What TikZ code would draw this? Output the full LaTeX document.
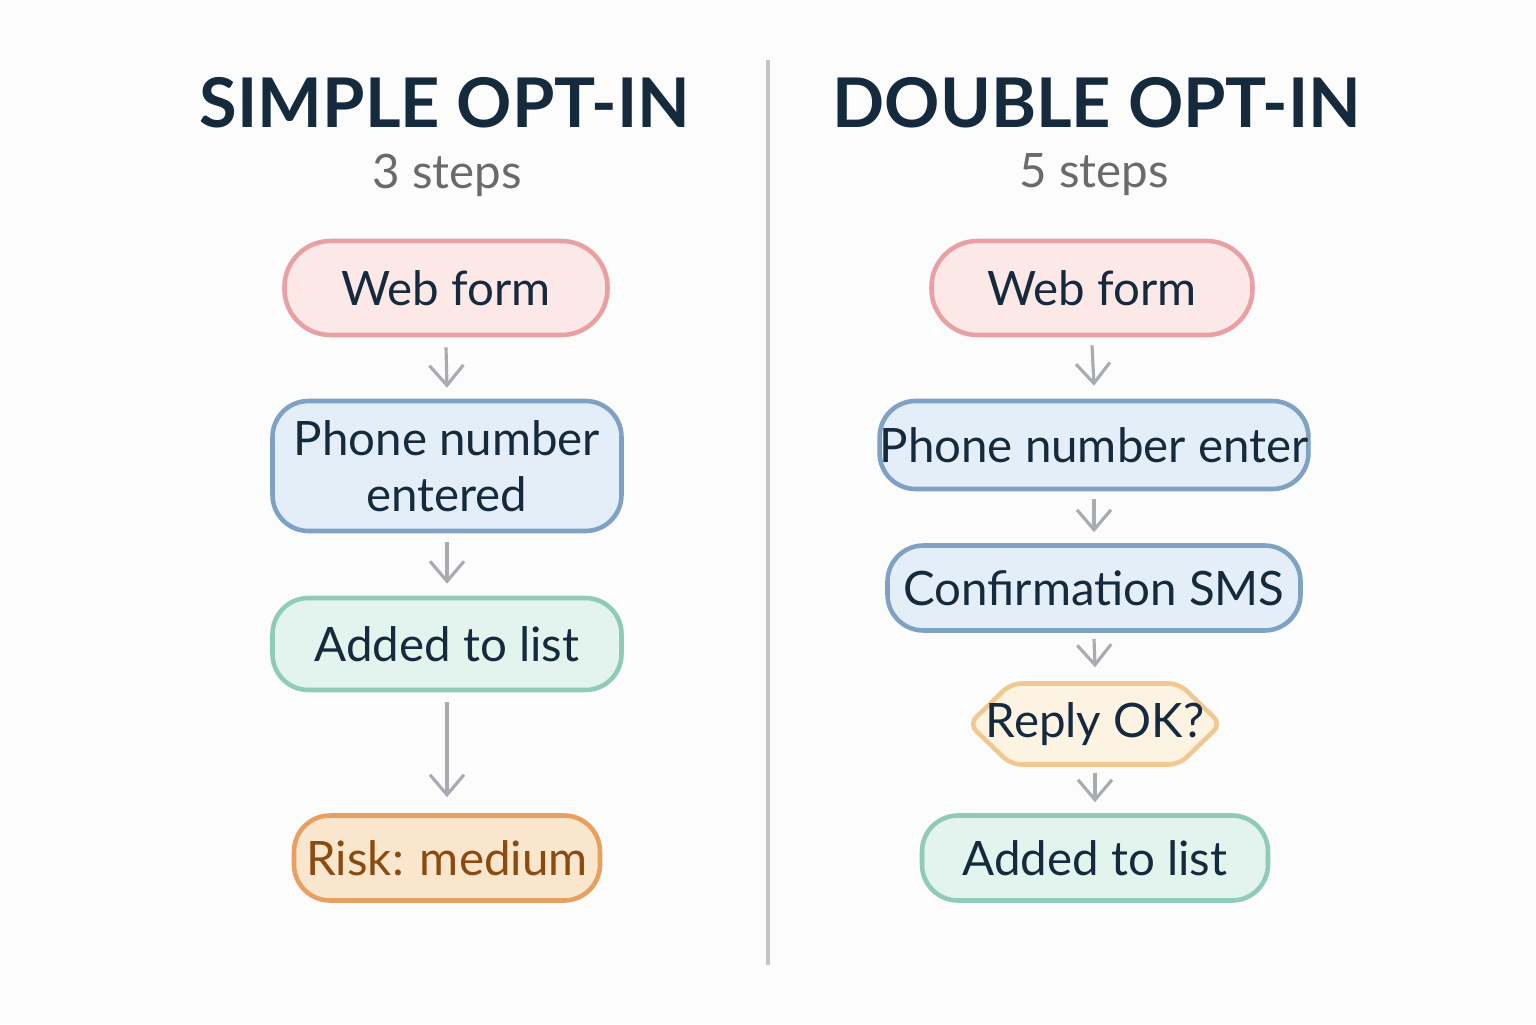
\documentclass[tikz,border=0pt]{standalone}
\usepackage{fontspec}
\setmainfont{Lato}
\usetikzlibrary{arrows.meta}
\definecolor{navy}{HTML}{152A3D}
\definecolor{stepgrey}{HTML}{6A6A6A}
\definecolor{arrowgrey}{HTML}{A8ACB2}
\definecolor{pinkfill}{HTML}{FDE8E8}
\definecolor{pinkline}{HTML}{E8A0A4}
\definecolor{bluefill}{HTML}{E4EEF8}
\definecolor{blueline}{HTML}{7FA2C4}
\definecolor{greenfill}{HTML}{E3F3EE}
\definecolor{greenline}{HTML}{8FCBB5}
\definecolor{orangefill}{HTML}{F9E6CC}
\definecolor{orangeline}{HTML}{E8A060}
\definecolor{risktext}{HTML}{8A4A10}
\definecolor{hexfill}{HTML}{FDF3E3}
\definecolor{hexline}{HTML}{F0C890}
\tikzset{
  title/.style={font=\fontsize{19.5}{22}\selectfont\bfseries, text=navy},
  sub/.style={font=\fontsize{13.5}{15}\selectfont, text=stepgrey},
  box/.style={rounded corners=0.36cm, line width=1.3pt, text=navy,
    font=\fontsize{13.5}{16}\selectfont, align=center, inner sep=0pt},
  flow/.style={-{Straight Barb[length=2mm,width=3.4mm]}, draw=arrowgrey, line width=0.9pt}
}
\begin{document}
\begin{tikzpicture}[x=1cm,y=1cm]
\fill[white!98!gray] (0,0) rectangle (15.36,10.24);
\useasboundingbox (0,0) rectangle (15.36,10.24);
% divider
\draw[arrowgrey!70, line width=1.2pt] (7.68,0.59) -- (7.68,9.64);

% simple opt-in
\node[title] (stitle) at (4.45,9.21) {SIMPLE OPT-IN};
\node[sub] (ssub) at (4.47,8.49) {3 steps};
\node[box, fill=pinkfill, draw=pinkline, rounded corners=0.46cm,
  minimum width=3.23cm, minimum height=0.94cm] (sweb) at (4.46,7.36) {Web form};
\node[box, fill=bluefill, draw=blueline,
  minimum width=3.49cm, minimum height=1.30cm] (sphone) at (4.47,5.58) {Phone number\\entered};
\node[box, fill=greenfill, draw=greenline,
  minimum width=3.49cm, minimum height=0.92cm] (sadded) at (4.47,3.80) {Added to list};
\node[box, fill=orangefill, draw=orangeline, text=risktext,
  minimum width=3.06cm, minimum height=0.85cm] (srisk) at (4.47,1.66) {Risk: medium};
\draw[flow] ([yshift=-0.10cm]sweb.south) -- ([yshift=0.11cm]sphone.north);
\draw[flow] ([yshift=-0.09cm]sphone.south) -- ([yshift=0.12cm]sadded.north);
\draw[flow] ([yshift=-0.10cm]sadded.south) -- ([yshift=0.16cm]srisk.north);

% double opt-in
\node[title] (dtitle) at (10.97,9.21) {DOUBLE OPT-IN};
\node[sub] (dsub) at (10.94,8.49) {5 steps};
\node[box, fill=pinkfill, draw=pinkline, rounded corners=0.46cm,
  minimum width=3.21cm, minimum height=0.94cm] (dweb) at (10.92,7.36) {Web form};
\node[box, fill=bluefill, draw=blueline,
  minimum width=4.14cm, minimum height=0.88cm] (dphone) at (10.94,5.79) {Phone number enter};
\node[box, fill=bluefill, draw=blueline,
  minimum width=4.13cm, minimum height=0.85cm] (dconf) at (10.94,4.36) {Confirmation SMS};
\coordinate (hexc) at (10.95,3.00);
\filldraw[fill=hexfill, draw=hexline, line width=1.3pt, rounded corners=0.1cm]
  ([xshift=-1.26cm]hexc) -- ([xshift=-0.84cm,yshift=0.405cm]hexc) -- ([xshift=0.84cm,yshift=0.405cm]hexc)
  -- ([xshift=1.26cm]hexc) -- ([xshift=0.84cm,yshift=-0.405cm]hexc) -- ([xshift=-0.84cm,yshift=-0.405cm]hexc) -- cycle;
\node[box, minimum width=2.52cm, minimum height=0.81cm] (dreply) at (hexc) {Reply OK?};
\node[box, fill=greenfill, draw=greenline,
  minimum width=3.46cm, minimum height=0.85cm] (dadded) at (10.95,1.66) {Added to list};
\draw[flow] ([yshift=-0.08cm]dweb.south) -- ([yshift=0.13cm]dphone.north);
\draw[flow] ([yshift=-0.08cm]dphone.south) -- ([yshift=0.11cm]dconf.north);
\draw[flow] ([yshift=-0.06cm]dconf.south) -- ([yshift=0.14cm]dreply.north);
\draw[flow] ([yshift=-0.06cm]dreply.south) -- ([yshift=0.11cm]dadded.north);
\end{tikzpicture}
\end{document}
